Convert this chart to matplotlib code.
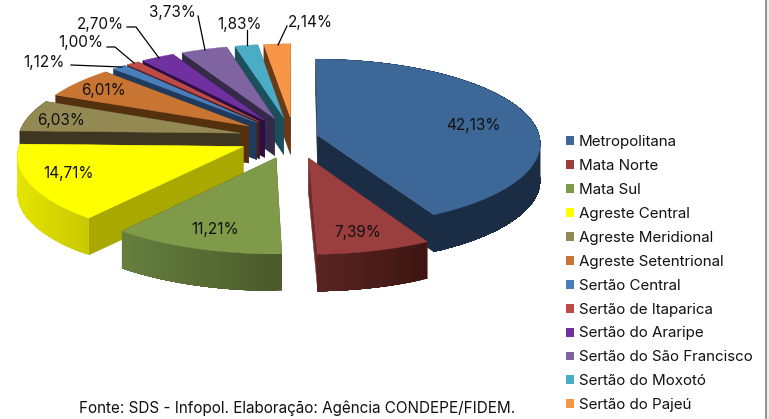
import numpy as np
import matplotlib
matplotlib.use("Agg")
import matplotlib.pyplot as plt
from matplotlib.colors import to_rgb
from matplotlib.patches import Patch

plt.rcParams["font.family"] = ["Inter", "Liberation Sans", "DejaVu Sans"]

regions = ["Metropolitana", "Mata Norte", "Mata Sul", "Agreste Central", "Agreste Meridional",
           "Agreste Setentrional", "Sertão Central", "Sertão de Itaparica", "Sertão do Araripe",
           "Sertão do São Francisco", "Sertão do Moxotó", "Sertão do Pajeú"]
shares = [42.13, 7.39, 11.21, 14.71, 6.03, 6.01, 1.12, 1.00, 2.70, 3.73, 1.83, 2.14]
explode = [0.11, 0.25, 0.25, 0.25, 0.25, 0.25, 0.25, 0.25, 0.25, 0.25, 0.25, 0.25]

top_colors = ["#3c6796", "#9a3f3d", "#7f9a48", "#ffff00", "#938953", "#c87534",
              "#4a7ebb", "#be4b48", "#7030a0", "#8064a2", "#4bacc6", "#f79646"]
cut_colors = ["#1a2d45", "#6e2b2a", "#4a5a2b", "#a8a800", "#3e3620", "#55300f",
              "#1f3a5c", "#4b1b1a", "#2b0f44", "#352a47", "#1c4f5c", "#6b3a14"]
# outer wall shading, left end and right end of the arc
wall_left = ["#1a2d45", "#5a2523", "#66803f", "#e5e500", "#3e3620", "#55300f",
             "#1f3a5c", "#4b1b1a", "#2b0f44", "#352a47", "#1c4f5c", "#6b3a14"]
wall_right = ["#1a2d45", "#3e1512", "#4a5a2b", "#c9c900", "#3e3620", "#55300f",
              "#1f3a5c", "#4b1b1a", "#2b0f44", "#352a47", "#1c4f5c", "#6b3a14"]

# label centres in pixels, small slices get a leader line
label_pos = [(473, 125), (358, 232), (215, 229), (69, 173), (61, 120), (104, 90),
             (44, 62), (81, 43), (100, 24), (172, 12), (239, 24), (310, 22)]
leaders = {6: [(71, 65), (122, 67)],
           7: [(107, 47), (115, 47), (134, 63)],
           8: [(127, 27), (136, 27), (159, 58)],
           9: [(198, 16), (205, 50)],
           10: [(247, 30), (247, 45)],
           11: [(287, 26), (278, 45)]}

CX, CY = 294, 137.6   # pie centre
RX, RY = 222, 83.5    # radii on screen
PERSP = 0.09          # far side shrinks, near side grows
DEPTH = 37


def project(x, y):
    s = 1 / (1 + PERSP * y)
    return CX + RX * x * s, CY - RY * y * s


fig = plt.figure(figsize=(7.69, 4.19), dpi=100)
ax = fig.add_axes([0, 0, 1, 1])
ax.set_xlim(0, 769)
ax.set_ylim(419, 0)
ax.axis("off")

edges = np.cumsum([0] + shares) / sum(shares) * 2 * np.pi


def draw_slice(i):
    t0, t1 = edges[i], edges[i + 1]
    mid = (t0 + t1) / 2
    ox, oy = explode[i] * np.sin(mid), explode[i] * np.cos(mid)
    t = np.linspace(t0, t1, max(int((t1 - t0) * 60), 6))
    ax_, ay_ = project(ox, oy)
    rx, ry = project(ox + np.sin(t), oy + np.cos(t))
    # radial cut faces
    for j in (0, -1):
        ax.fill([ax_, rx[j], rx[j], ax_], [ay_, ry[j], ry[j] + DEPTH, ay_ + DEPTH],
                color=cut_colors[i], lw=0.3, zorder=i_order[i])
    # outer wall, each strip runs to the arc's end so no seams show
    c0, c1 = np.array(to_rgb(wall_left[i])), np.array(to_rgb(wall_right[i]))
    span = max(rx.max() - rx.min(), 1)
    for j in range(len(t) - 1):
        if np.cos(t[j]) > 0.05 and i != 0:
            continue
        f = (rx[j] - rx.min()) / span
        ax.fill(np.r_[rx[j:], rx[j:][::-1]], np.r_[ry[j:], ry[j:][::-1] + DEPTH],
                color=c0 + (c1 - c0) * f, lw=0, zorder=i_order[i])
    ax.fill(np.r_[ax_, rx], np.r_[ay_, ry], color=top_colors[i], lw=0.3, zorder=i_order[i] + 0.5)


# paint from back to front
paint = [11, 10, 9, 8, 7, 6, 5, 4, 3, 2, 0, 1]
i_order = {i: n + 1 for n, i in enumerate(paint)}
for i in paint:
    draw_slice(i)

for i, (v, (x, y)) in enumerate(zip(shares, label_pos)):
    ax.text(x, y, f"{v:.2f}%".replace(".", ","), ha="center", va="center",
            fontsize=11, color="#111111", zorder=30)
for pts in leaders.values():
    ax.plot(*zip(*pts), color="black", lw=0.9, zorder=29)

ax.text(297, 408, "Fonte: SDS - Infopol. Elaboração: Agência CONDEPE/FIDEM.", ha="center", va="center",
        fontsize=11, color="#111111")

handles = [Patch(facecolor=c, edgecolor="none") for c in top_colors]
fig.legend(handles, regions, loc="upper left", bbox_to_anchor=(566 / 769, 1 - 135 / 419), frameon=False,
           fontsize=10.9, labelspacing=0.656, handlelength=0.53, handleheight=0.53, handletextpad=0.33,
           borderpad=0, borderaxespad=0, labelcolor="#111111")

ax.axvspan(766, 769, color="#eeeeee", lw=0)
ax.plot([765.5, 765.5], [0, 419], color="#808080", lw=1.2)

fig.savefig("out.png", dpi=100)
